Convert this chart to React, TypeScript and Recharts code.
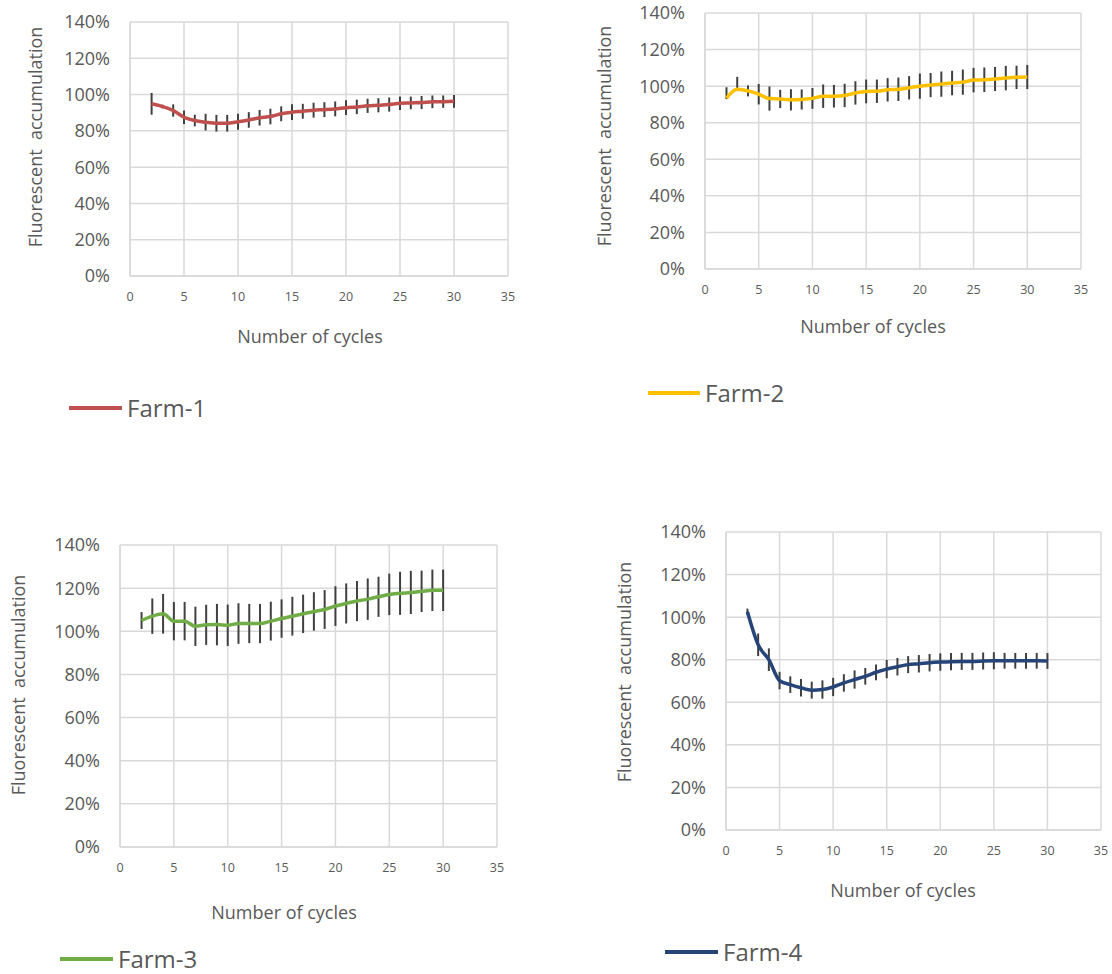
import React from 'react';
import { LineChart, Line, XAxis, YAxis, CartesianGrid, ErrorBar } from 'recharts';

// fluorescence accumulation (%) per cycle, with error bar half-lengths
const cycles = [2, 3, 4, 5, 6, 7, 8, 9, 10, 11, 12, 13, 14, 15, 16, 17, 18, 19, 20, 21, 22, 23, 24, 25, 26, 27, 28, 29, 30];

const farm1 = [94.9, 93.4, 91.2, 87.5, 85.7, 84.8, 84.2, 84.2, 85, 86, 87.2, 87.9, 89.4, 90.3, 90.8, 91.4, 91.7, 92.1, 92.8, 93.2, 93.8, 94.1, 94.5, 95.2, 95.4, 95.6, 96, 96.1, 96.3];
const farm1Err = [6, 1, 3.4, 3.7, 3.2, 4.6, 4.6, 4.6, 4.4, 4.3, 4.3, 4.3, 4.1, 4.3, 4.1, 4.1, 4.1, 4.1, 4.1, 4, 3.9, 3.9, 3.9, 3.7, 3.5, 3.6, 3.5, 3.4, 3.5];

const farm2 = [93.4, 98.3, 97.4, 95.6, 93.2, 93, 92.5, 92.7, 93.3, 94.5, 94.5, 94.9, 96.3, 97.1, 97.2, 98, 98.3, 99.1, 100, 100.6, 101.1, 101.7, 102.2, 103.3, 103.5, 103.9, 104.4, 104.8, 105];
const farm2ErrUp = [6, 6.8, 3, 5.6, 6.6, 5, 5.8, 5.5, 5.7, 6.4, 6.2, 6.4, 6.4, 6.5, 6.4, 6.4, 6.4, 6.4, 6.9, 6.6, 6.9, 6.7, 6.9, 6.7, 6.7, 6.6, 6.7, 6.4, 6.6];
const farm2ErrDown = [0.5, 1, 3, 5.6, 6.6, 5, 5.8, 5.5, 5.7, 6.4, 6.2, 6.4, 6.4, 6.5, 6.4, 6.4, 6.4, 6.4, 6.9, 6.6, 6.9, 6.7, 6.9, 6.7, 6.7, 6.6, 6.7, 6.4, 6.6];

const farm3 = [105, 107, 108.1, 104.7, 104.7, 102.3, 103, 103.1, 102.8, 103.6, 103.6, 103.6, 104.7, 105.9, 107, 108.1, 109.2, 110.1, 111.7, 112.9, 114, 114.9, 116, 117.1, 117.6, 118, 118.5, 119, 119];
const farm3Err = [3.9, 8.2, 9.2, 8.9, 8.9, 9.1, 9.3, 9.6, 9.6, 9.4, 9.1, 9.1, 9, 8.9, 9, 8.9, 8.9, 9, 9.2, 9.3, 9.3, 9.6, 9.3, 9.6, 10, 10, 9.6, 9.6, 9.6];

const farm4 = [102.5, 87, 80, 70.2, 68.3, 66.8, 65.7, 66, 67.2, 69.1, 70.7, 72.2, 74.1, 75.6, 76.7, 77.7, 78.1, 78.6, 78.9, 79.1, 79.2, 79.2, 79.4, 79.5, 79.5, 79.5, 79.5, 79.5, 79.4];
const farm4Err = [1.5, 5.3, 5.3, 4.1, 3.9, 4.1, 4, 4.3, 4.3, 4.1, 4.3, 3.9, 3.7, 4.3, 4.1, 4, 4.1, 4.1, 4.1, 4, 4, 4, 4, 4, 3.7, 3.7, 3.7, 3.7, 3.7];

const xTicks = [0, 5, 10, 15, 20, 25, 30, 35];
const yTicks = [0, 20, 40, 60, 80, 100, 120, 140];

const FONT = '"Open Sans", sans-serif';
const TEXT = '#595959';
const GRID = '#d9d9d9';
const XH = 30;

type Box = { left: number; top: number; width: number; height: number };
type Spec = {
  name: string;
  color: string;
  values: number[];
  errDown: number[];
  errUp: number[];
  box: Box;
  plot: { l: number; t: number; r: number; b: number };
  yTitle: [number, number];
  xTitle: [number, number];
  legend: { x1: number; x2: number; y: number };
};

const panels: Spec[] = [
  {
    name: 'Farm-1', color: '#C0504D', values: farm1, errDown: farm1Err, errUp: farm1Err,
    box: { left: 0, top: 0, width: 556, height: 440 },
    plot: { l: 130, t: 22, r: 508, b: 276 },
    yTitle: [35, 137], xTitle: [310, 336], legend: { x1: 69, x2: 122, y: 408 },
  },
  {
    name: 'Farm-2', color: '#FFC000', values: farm2, errDown: farm2ErrDown, errUp: farm2ErrUp,
    box: { left: 556, top: 0, width: 556, height: 440 },
    plot: { l: 705, t: 13, r: 1081, b: 269 },
    yTitle: [604, 136], xTitle: [873, 326], legend: { x1: 648, x2: 700, y: 393 },
  },
  {
    name: 'Farm-3', color: '#70AD47', values: farm3, errDown: farm3Err, errUp: farm3Err,
    box: { left: 0, top: 480, width: 556, height: 494 },
    plot: { l: 120, t: 545, r: 497, b: 847 },
    yTitle: [18, 685], xTitle: [284, 912], legend: { x1: 60, x2: 113, y: 959 },
  },
  {
    name: 'Farm-4', color: '#264478', values: farm4, errDown: farm4Err, errUp: farm4Err,
    box: { left: 556, top: 480, width: 556, height: 494 },
    plot: { l: 726, t: 532, r: 1101, b: 830 },
    yTitle: [624, 672], xTitle: [903, 890], legend: { x1: 665, x2: 718, y: 952 },
  },
];

function Panel({ s }: { s: Spec }) {
  const { box, plot } = s;
  const data = cycles.map((c, i) => ({ cycle: c, value: s.values[i], err: [s.errDown[i], s.errUp[i]] }));
  const yx = s.yTitle[0] - box.left;
  const yy = s.yTitle[1] - box.top;
  const xx = s.xTitle[0] - box.left;
  const xy = s.xTitle[1] - box.top;
  return (
    <div style={{ position: 'absolute', left: box.left, top: box.top, width: box.width, height: box.height }}>
      <LineChart
        width={box.width}
        height={box.height}
        data={data}
        margin={{ top: plot.t - box.top, right: box.left + box.width - plot.r, bottom: box.top + box.height - plot.b - XH, left: 0 }}
      >
        <CartesianGrid stroke={GRID} strokeWidth={1.5} />
        <XAxis
          dataKey="cycle"
          type="number"
          domain={[0, 35]}
          ticks={xTicks}
          interval={0}
          height={XH}
          tickLine={false}
          tickMargin={10}
          axisLine={{ stroke: GRID, strokeWidth: 1.5 }}
          tick={{ fill: TEXT, fontSize: 12.5, fontFamily: FONT }}
          label={() => (
            <text x={xx} y={xy} textAnchor="middle" dominantBaseline="central" fill={TEXT} fontSize={18} fontFamily={FONT}>
              Number of cycles
            </text>
          )}
        />
        <YAxis
          type="number"
          domain={[0, 140]}
          ticks={yTicks}
          interval={0}
          width={plot.l - box.left}
          tickLine={false}
          tickMargin={14}
          axisLine={{ stroke: GRID, strokeWidth: 1.5 }}
          tickFormatter={(v: number) => `${v}%`}
          tick={{ fill: TEXT, fontSize: 18, fontFamily: FONT }}
          label={() => (
            <text
              x={yx}
              y={yy}
              transform={`rotate(-90 ${yx} ${yy})`}
              textAnchor="middle"
              dominantBaseline="central"
              fill={TEXT}
              fontSize={18}
              fontFamily={FONT}
              style={{ whiteSpace: 'pre' }}
            >
              {'Fluorescent  accumulation'}
            </text>
          )}
        />
        <Line dataKey="value" stroke="none" dot={false} isAnimationActive={false} type="monotone">
          <ErrorBar dataKey="err" direction="y" width={0} stroke="#404040" strokeWidth={2} isAnimationActive={false} />
        </Line>
        <Line dataKey="value" name={s.name} stroke={s.color} strokeWidth={3.5} dot={false} isAnimationActive={false} type="monotone" />
      </LineChart>
      <div
        style={{
          position: 'absolute',
          left: s.legend.x1 - box.left,
          top: s.legend.y - box.top - 13,
          height: 26,
          display: 'flex',
          alignItems: 'center',
          fontFamily: FONT,
          fontSize: 24,
          lineHeight: 1,
          color: TEXT,
          whiteSpace: 'nowrap',
        }}
      >
        <div style={{ width: s.legend.x2 - s.legend.x1, height: 3.5, background: s.color, marginRight: 5 }} />
        <span style={{ lineHeight: 1 }}>{s.name}</span>
      </div>
    </div>
  );
}

export default function App() {
  return (
    <div style={{ position: 'absolute', left: 0, top: 0, width: 1112, height: 974, background: '#fff', overflow: 'hidden' }}>
      {panels.map((p) => (
        <Panel key={p.name} s={p} />
      ))}
    </div>
  );
}
